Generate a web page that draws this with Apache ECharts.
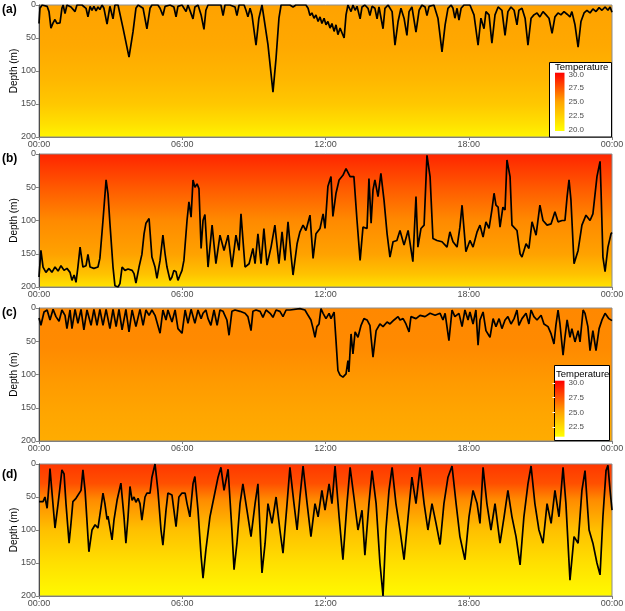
<!DOCTYPE html>
<html><head><meta charset="utf-8">
<script src="https://cdn.jsdelivr.net/npm/echarts@6/dist/echarts.min.js"></script>
<style>html,body{margin:0;padding:0;background:#fff}#c{width:625px;height:611px}</style>
</head><body><div id="c"></div><script>
const timeTicks = ['00:00','06:00','12:00','18:00','00:00'];
const depthTicks = [0,50,100,150,200];
const legendTicksA = [20,22.5,25,27.5,30];
const legendTicksC = [22.5,25,27.5,30];
const panelLabels = ['(a)','(b)','(c)','(d)'];

// [hour, depth m]
const seriesA = [[0,28],[0.04,5],[0.13,0],[0.34,2],[0.42,10],[0.50,35],[0.59,27],[0.67,22],[0.75,28],[0.88,27],[0.96,5],[1.01,0],[1.09,13],[1.17,0],[1.34,3],[1.51,10],[1.59,0],[1.80,0],[1.97,5],[2.05,18],[2.14,2],[2.22,8],[2.30,2],[2.39,9],[2.47,3],[2.55,7],[2.64,0],[2.72,5],[2.85,29],[2.97,2],[3.10,21],[3.18,0],[3.31,0],[3.52,35],[3.77,79],[3.94,40],[4.06,5],[4.15,0],[4.36,5],[4.52,36],[4.65,5],[4.73,0],[4.98,0],[5.07,5],[5.19,16],[5.28,2],[5.49,0],[5.65,3],[5.74,18],[5.82,2],[5.99,0],[6.16,10],[6.24,0],[6.32,3],[6.45,21],[6.53,3],[6.66,0],[6.79,15],[6.91,37],[6.99,8],[7.08,0],[7.29,0],[7.37,3],[7.46,0],[7.62,0],[7.71,16],[7.79,0],[8.00,0],[8.21,3],[8.29,16],[8.38,0],[8.59,0],[8.67,8],[8.75,18],[8.84,5],[8.92,15],[9.09,61],[9.21,20],[9.34,0],[9.42,0],[9.59,60],[9.80,132],[9.93,80],[10.05,20],[10.14,0],[10.51,0],[10.64,3],[10.76,0],[11.18,0],[11.27,5],[11.35,16],[11.43,12],[11.52,20],[11.60,15],[11.69,25],[11.77,18],[11.85,28],[11.94,20],[12.02,30],[12.10,25],[12.19,35],[12.27,28],[12.36,40],[12.44,30],[12.52,45],[12.61,35],[12.69,42],[12.78,50],[12.86,15],[12.94,0],[13.07,10],[13.15,0],[13.24,8],[13.32,2],[13.45,21],[13.53,3],[13.65,0],[13.78,5],[13.86,16],[13.95,2],[14.07,5],[14.16,21],[14.24,3],[14.32,5],[14.41,36],[14.49,5],[14.62,0],[14.79,10],[14.91,61],[15.04,25],[15.16,5],[15.29,20],[15.41,46],[15.50,10],[15.62,3],[15.79,41],[15.92,8],[16.04,0],[16.17,3],[16.25,16],[16.34,2],[16.54,0],[16.71,20],[16.88,71],[17.01,30],[17.13,5],[17.26,0],[17.34,5],[17.42,20],[17.51,5],[17.59,23],[17.68,5],[17.80,0],[17.88,2],[18.05,0],[18.22,15],[18.39,61],[18.51,20],[18.64,36],[18.72,10],[18.85,15],[18.97,58],[19.10,15],[19.23,3],[19.39,8],[19.52,46],[19.64,10],[19.77,3],[19.90,8],[20.02,30],[20.10,8],[20.23,5],[20.36,20],[20.48,61],[20.61,20],[20.73,15],[20.86,12],[20.98,18],[21.11,10],[21.24,15],[21.36,20],[21.49,43],[21.61,18],[21.74,12],[21.86,15],[21.99,10],[22.12,14],[22.24,18],[22.32,10],[22.45,30],[22.58,64],[22.70,25],[22.83,12],[22.95,8],[23.08,12],[23.20,6],[23.33,10],[23.46,4],[23.58,8],[23.71,3],[23.83,8],[23.92,3],[24.00,11]];

const seriesB = [[0,185],[0.08,145],[0.17,170],[0.29,178],[0.42,172],[0.54,178],[0.67,170],[0.80,176],[0.92,168],[1.05,175],[1.17,172],[1.30,178],[1.38,190],[1.47,182],[1.55,193],[1.63,170],[1.72,140],[1.84,170],[1.97,168],[2.05,151],[2.14,170],[2.30,172],[2.47,170],[2.55,157],[2.68,100],[2.81,39],[2.89,60],[2.97,104],[3.10,170],[3.18,198],[3.31,200],[3.39,195],[3.48,170],[3.60,175],[3.73,173],[3.90,175],[3.98,180],[4.06,194],[4.19,170],[4.31,151],[4.40,120],[4.48,104],[4.61,97],[4.73,155],[4.86,170],[4.94,187],[5.07,160],[5.19,122],[5.28,150],[5.36,170],[5.49,190],[5.57,185],[5.65,175],[5.74,177],[5.82,190],[5.91,182],[5.99,175],[6.07,160],[6.20,100],[6.28,72],[6.37,95],[6.45,39],[6.53,50],[6.62,45],[6.70,52],[6.79,142],[6.87,100],[6.95,91],[7.08,170],[7.25,107],[7.41,165],[7.58,122],[7.75,145],[7.92,122],[8.08,170],[8.25,122],[8.38,145],[8.46,90],[8.63,170],[8.80,165],[8.96,142],[9.05,165],[9.17,120],[9.30,165],[9.42,112],[9.55,167],[9.72,140],[9.88,107],[10.05,165],[10.18,117],[10.30,160],[10.43,102],[10.55,150],[10.64,182],[10.81,135],[10.93,117],[11.06,107],[11.18,115],[11.35,92],[11.48,157],[11.60,120],[11.77,112],[11.90,90],[11.98,112],[12.10,49],[12.23,34],[12.31,94],[12.44,59],[12.57,39],[12.73,32],[12.86,22],[13.03,34],[13.19,34],[13.32,100],[13.45,160],[13.57,110],[13.74,112],[13.82,37],[13.91,104],[13.99,54],[14.07,39],[14.20,64],[14.32,29],[14.45,69],[14.58,120],[14.70,155],[14.83,132],[14.99,130],[15.12,115],[15.29,137],[15.46,115],[15.66,162],[15.79,64],[15.87,140],[16.00,112],[16.13,107],[16.21,108],[16.25,2],[16.38,34],[16.50,127],[16.67,130],[16.88,132],[17.09,140],[17.21,117],[17.34,132],[17.51,140],[17.63,110],[17.72,77],[17.80,112],[17.88,147],[18.05,130],[18.18,140],[18.35,117],[18.47,107],[18.60,125],[18.72,102],[18.85,112],[18.97,84],[19.06,59],[19.14,77],[19.23,80],[19.31,110],[19.43,80],[19.52,84],[19.60,9],[19.73,34],[19.81,107],[20.02,115],[20.15,150],[20.23,155],[20.40,135],[20.52,142],[20.65,102],[20.82,122],[20.98,77],[21.11,100],[21.28,107],[21.45,105],[21.61,87],[21.74,102],[21.91,100],[22.03,100],[22.12,64],[22.20,39],[22.28,69],[22.41,165],[22.58,145],[22.74,107],[22.91,92],[23.08,100],[23.20,90],[23.37,34],[23.50,11],[23.54,54],[23.62,155],[23.71,177],[23.83,140],[23.96,120],[24.00,118]];

const seriesC = [[0,15],[0.08,26],[0.21,6],[0.34,3],[0.46,18],[0.59,2],[0.71,13],[0.84,20],[0.96,3],[1.09,11],[1.17,31],[1.30,3],[1.38,31],[1.51,2],[1.63,23],[1.76,2],[1.88,33],[2.01,3],[2.18,26],[2.30,2],[2.43,26],[2.55,2],[2.68,26],[2.81,2],[2.97,31],[3.10,2],[3.23,28],[3.35,2],[3.48,33],[3.64,2],[3.77,36],[3.90,3],[4.06,28],[4.23,2],[4.36,26],[4.48,3],[4.61,11],[4.73,3],[4.86,11],[5.07,38],[5.19,3],[5.32,18],[5.40,3],[5.57,21],[5.70,3],[5.82,31],[5.99,38],[6.12,3],[6.24,23],[6.37,2],[6.53,23],[6.66,3],[6.79,16],[6.87,8],[6.99,3],[7.08,16],[7.20,26],[7.33,3],[7.46,26],[7.58,3],[7.71,5],[7.87,18],[7.96,41],[8.08,5],[8.21,3],[8.42,5],[8.63,8],[8.75,13],[8.88,34],[8.96,5],[9.09,3],[9.26,5],[9.38,14],[9.51,3],[9.68,8],[9.80,14],[9.93,3],[10.09,5],[10.22,13],[10.35,3],[10.51,3],[10.93,1],[11.14,3],[11.27,11],[11.39,18],[11.48,31],[11.56,44],[11.64,28],[11.73,24],[11.81,1],[11.90,8],[12.02,16],[12.15,8],[12.23,16],[12.36,6],[12.44,49],[12.52,94],[12.61,101],[12.73,104],[12.86,99],[12.94,79],[12.98,96],[13.07,39],[13.15,69],[13.24,36],[13.36,44],[13.49,26],[13.61,16],[13.74,18],[13.86,26],[13.99,74],[14.12,34],[14.28,24],[14.41,28],[14.58,21],[14.70,24],[14.87,18],[15.04,13],[15.12,18],[15.25,16],[15.37,24],[15.50,36],[15.58,13],[15.79,16],[15.96,11],[16.17,13],[16.38,8],[16.59,11],[16.80,8],[16.92,18],[17.01,8],[17.17,49],[17.30,3],[17.42,13],[17.59,8],[17.72,28],[17.84,3],[17.97,18],[18.05,6],[18.18,24],[18.30,3],[18.39,56],[18.47,18],[18.60,6],[18.72,34],[18.89,44],[19.02,16],[19.14,28],[19.27,16],[19.39,31],[19.52,18],[19.64,13],[19.77,24],[19.90,16],[20.02,3],[20.10,26],[20.23,16],[20.40,8],[20.52,24],[20.61,3],[20.73,13],[20.86,18],[21.03,11],[21.15,24],[21.32,28],[21.45,39],[21.57,54],[21.65,26],[21.74,3],[21.82,24],[21.95,71],[22.03,44],[22.12,18],[22.24,44],[22.32,31],[22.45,51],[22.58,34],[22.66,51],[22.79,3],[22.87,8],[22.99,28],[23.08,64],[23.20,34],[23.33,64],[23.46,31],[23.58,18],[23.71,8],[23.87,16],[24.00,19]];

const seriesD = [[0,57],[0.08,58],[0.17,57],[0.25,50],[0.34,67],[0.42,30],[0.46,7],[0.54,10],[0.67,97],[0.80,60],[0.88,35],[0.96,9],[1.05,15],[1.13,60],[1.26,120],[1.34,90],[1.42,57],[1.55,52],[1.63,55],[1.76,40],[1.84,9],[1.93,40],[2.09,133],[2.22,100],[2.35,92],[2.47,97],[2.60,65],[2.68,44],[2.76,60],[2.85,84],[2.89,79],[3.06,115],[3.14,85],[3.27,55],[3.43,29],[3.56,80],[3.64,120],[3.73,80],[3.81,34],[3.90,55],[3.98,50],[4.06,58],[4.15,52],[4.23,60],[4.31,85],[4.44,50],[4.52,44],[4.65,44],[4.73,20],[4.86,0],[4.98,40],[5.11,100],[5.19,123],[5.32,70],[5.40,44],[5.57,47],[5.74,95],[5.86,50],[5.99,44],[6.12,44],[6.20,60],[6.32,80],[6.45,30],[6.53,19],[6.66,70],[6.79,140],[6.87,173],[6.99,130],[7.16,80],[7.33,50],[7.50,20],[7.62,5],[7.75,40],[7.92,8],[8.08,100],[8.17,160],[8.29,120],[8.42,60],[8.54,30],[8.71,70],[8.88,110],[9.05,60],[9.17,30],[9.34,165],[9.47,120],[9.59,60],[9.76,90],[9.93,50],[10.09,100],[10.22,135],[10.39,60],[10.51,5],[10.68,60],[10.81,100],[10.93,50],[11.06,3],[11.23,60],[11.39,110],[11.56,60],[11.69,80],[11.85,40],[11.98,70],[12.15,30],[12.27,60],[12.40,3],[12.57,80],[12.73,145],[12.90,60],[13.03,5],[13.19,50],[13.36,100],[13.53,70],[13.65,138],[13.82,60],[13.95,10],[14.12,60],[14.28,150],[14.41,200],[14.53,100],[14.66,40],[14.79,5],[14.95,60],[15.12,100],[15.29,145],[15.46,80],[15.62,20],[15.79,60],[15.96,5],[16.13,60],[16.29,100],[16.46,60],[16.63,90],[16.80,122],[16.96,60],[17.13,20],[17.30,3],[17.47,60],[17.63,110],[17.84,145],[18.01,80],[18.18,40],[18.35,60],[18.47,90],[18.60,5],[18.76,60],[18.93,100],[19.10,60],[19.31,120],[19.48,80],[19.64,40],[19.81,80],[19.98,110],[20.15,153],[20.31,80],[20.48,30],[20.61,3],[20.77,60],[20.94,100],[21.11,120],[21.28,60],[21.45,90],[21.61,40],[21.78,80],[21.95,5],[22.07,60],[22.24,176],[22.41,110],[22.58,120],[22.74,40],[22.87,10],[23.04,100],[23.20,120],[23.37,150],[23.50,168],[23.62,80],[23.75,10],[23.83,2],[23.92,40],[24.00,70]];

// temperature-colour profile of each panel background: [depth, colour]
const bgA = [[0,'#FFA200'],[60,'#FFA800'],[110,'#FFB600'],[150,'#FFC800'],[180,'#FFE000'],[200,'#FFF500']];
const bgB = [[0,'#FF2400'],[50,'#FF5800'],[100,'#FF8A00'],[150,'#FFA200'],[180,'#FFC200'],[200,'#FFE400']];
const bgC = [[0,'#FF8800'],[60,'#FF8A00'],[110,'#FF9A00'],[160,'#FFA600'],[200,'#FFAC00']];
const bgD = [[0,'#FF3600'],[30,'#FF5000'],[55,'#FF8C00'],[100,'#FFC000'],[150,'#FFE000'],[200,'#FFFA00']];
const legendColours = [[30.3,'#FF0000'],[25,'#FFA500'],[19.7,'#FFFF00']];

const FONT = 'Liberation Sans, Arial, sans-serif';
const grad = (stops) => ({type:'linear', x:0, y:0, x2:0, y2:1,
  colorStops: stops.map(s => ({offset: s[0]/200, color: s[1]}))});
const legendGrad = (lo, hi) => ({type:'linear', x:0, y:0, x2:0, y2:1,
  colorStops: legendColours.map(s => ({offset: Math.min(1, Math.max(0, (hi - s[0])/(hi - lo))), color: s[1]}))});

const panels = [
  {data: seriesA, bg: bgA, top: 5, height: 132},
  {data: seriesB, bg: bgB, top: 154, height: 133},
  {data: seriesC, bg: bgC, top: 308, height: 133},
  {data: seriesD, bg: bgD, top: 464, height: 132}
];

const grid = [], xAxis = [], yAxis = [], series = [];
panels.forEach((p, i) => {
  grid.push({left: 39, width: 573, top: p.top, height: p.height, show: true, outerBoundsMode: 'none', containLabel: false,
    backgroundColor: grad(p.bg), borderColor: '#8c8c8c', borderWidth: 1, z: 0});
  xAxis.push({type: 'value', gridIndex: i, min: 0, max: 24, interval: 6,
    axisLine: {show: true, onZero: false, lineStyle: {color: '#7f7f7f', width: 1}},
    axisTick: {show: true, length: 3, lineStyle: {color: '#7f7f7f'}},
    axisLabel: {formatter: v => timeTicks[Math.round(v / 6)], fontSize: 9, color: '#4d4d4d', margin: 3, fontFamily: FONT},
    splitLine: {show: false}});
  yAxis.push({type: 'value', gridIndex: i, inverse: true, min: depthTicks[0], max: depthTicks[4], interval: 50,
    name: 'Depth (m)', nameLocation: 'middle', nameGap: 20, nameMoveOverlap: false,
    nameTextStyle: {fontSize: 10, color: '#000', fontFamily: FONT},
    axisLine: {show: true, onZero: false, lineStyle: {color: '#4d4d4d', width: 1}},
    axisTick: {show: true, length: 3, lineStyle: {color: '#7f7f7f'}},
    axisLabel: {fontSize: 9, color: '#4d4d4d', margin: 3, fontFamily: FONT},
    splitLine: {show: false}});
  series.push({type: 'line', xAxisIndex: i, yAxisIndex: i, data: p.data, showSymbol: false, symbol: 'none',
    lineStyle: {color: '#000', width: 1.7}, clip: true, z: 3, animation: false, silent: true});
});

// colour-bar legends for panels (a) and (c)
const legends = [
  {top: 72.7, height: 58.3, lo: 19.7, hi: 30.3, ticks: legendTicksA},
  {top: 380.7, height: 56, lo: 20.9, hi: 30.35, ticks: legendTicksC}
];
legends.forEach((L, k) => {
  const gi = 4 + k;
  grid.push({left: 555, width: 9.5, top: L.top, height: L.height, show: true, outerBoundsMode: 'none', containLabel: false,
    backgroundColor: legendGrad(L.lo, L.hi), borderWidth: 0, z: 10});
  xAxis.push({type: 'value', gridIndex: gi, min: 0, max: 1, show: false});
  yAxis.push({type: 'value', gridIndex: gi, min: L.lo, max: L.hi, position: 'right', z: 11,
    axisLine: {show: false},
    axisTick: {show: true, inside: true, length: 2.5, customValues: L.ticks, lineStyle: {color: '#ffffff', width: 1}},
    axisLabel: {customValues: L.ticks, formatter: v => v.toFixed(1), fontSize: 8, color: '#4d4d4d', margin: 4, fontFamily: FONT},
    splitLine: {show: false}});
});

const graphic = [
  {type: 'rect', shape: {x: 549.5, y: 62.5, width: 62, height: 74.5}, style: {fill: '#fff', stroke: '#000', lineWidth: 1}, z: 5},
  {type: 'rect', shape: {x: 554.5, y: 365.5, width: 55, height: 75}, style: {fill: '#fff', stroke: '#000', lineWidth: 1}, z: 5},
  {type: 'text', x: 555, y: 62.5, style: {text: 'Temperature', font: '9.5px ' + FONT, fill: '#000'}, z: 12},
  {type: 'text', x: 556, y: 369, style: {text: 'Temperature', font: '9.5px ' + FONT, fill: '#000'}, z: 12}
];
const labelTops = [4, 153, 307, 469];
panelLabels.forEach((t, i) => graphic.push({type: 'text', x: 2, y: labelTops[i],
  style: {text: t, font: 'bold 12px ' + FONT, fill: '#000'}, z: 12}));

const chart = echarts.init(document.getElementById('c'), null, {renderer: 'canvas'});
chart.setOption({animation: false, grid, xAxis, yAxis, series, graphic});
</script></body></html>
